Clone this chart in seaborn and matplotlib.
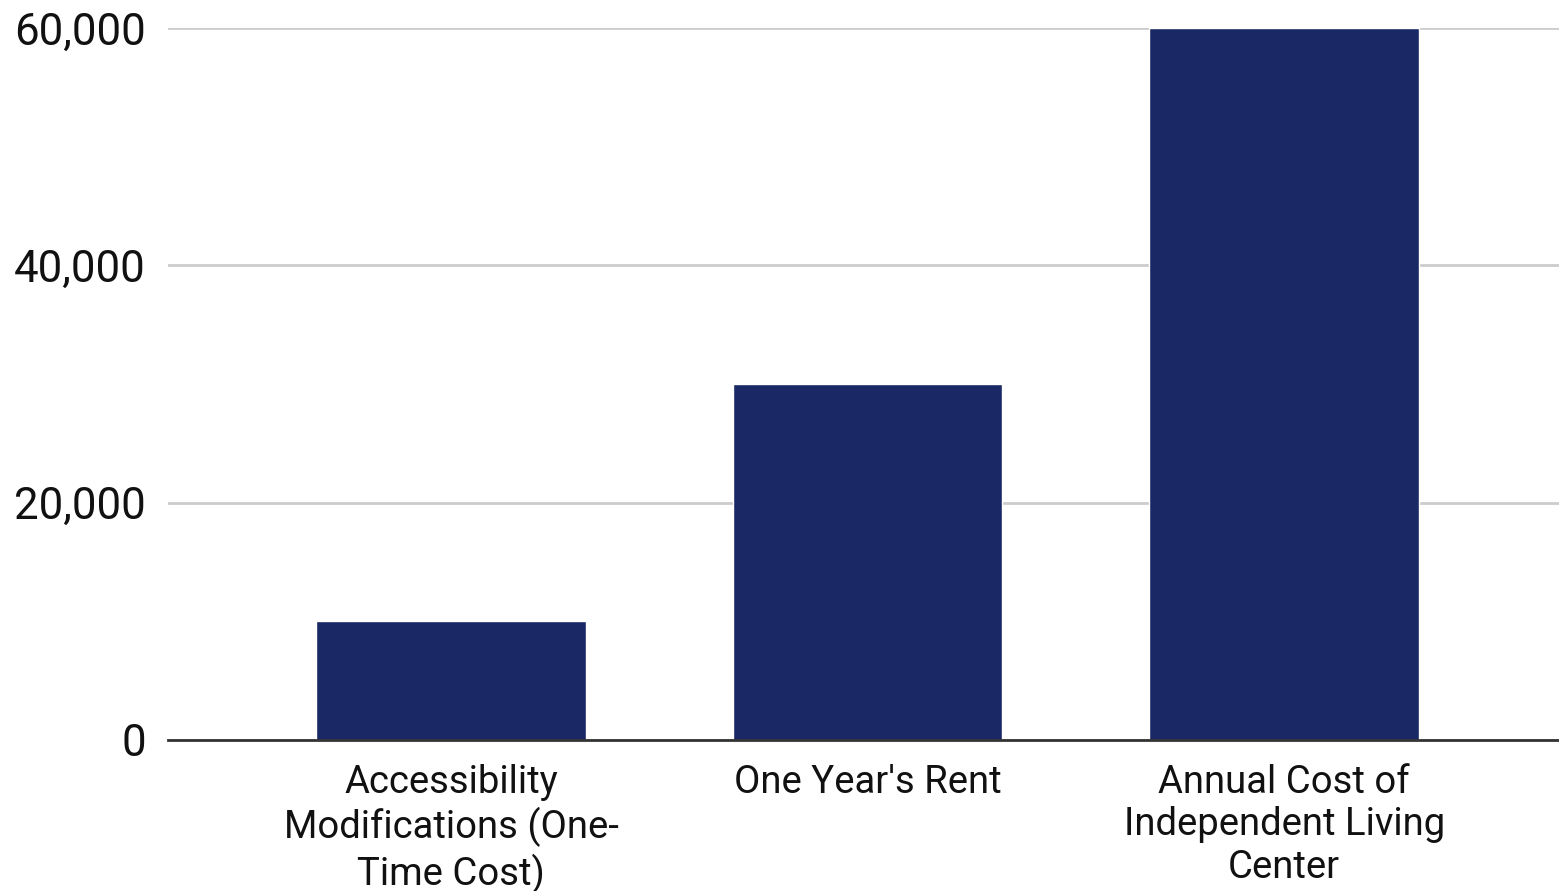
import seaborn as sns
import matplotlib.pyplot as plt
import pandas as pd
from matplotlib.ticker import FuncFormatter

sns.set_style('white')
plt.rcParams['font.family'] = ['Roboto', 'DejaVu Sans']

# data
categories = ['Accessibility\nModifications (One-\nTime Cost)',
              "One Year's Rent",
              'Annual Cost of\nIndependent Living\nCenter']
costs = [10000, 30000, 60000]
yticks = [0, 20000, 40000, 60000]

df = pd.DataFrame({'Category': categories, 'Cost': costs})

fig = plt.figure(figsize=(15.59, 8.91), dpi=100)
ax = fig.add_axes([168 / 1559, 1 - 740 / 891, 1 - 168 / 1559, (740 - 28) / 891])

sns.barplot(data=df, x='Category', y='Cost', color='#1a2866', width=0.647,
            saturation=1, ax=ax, zorder=3)

ax.set_xlim(-0.68, 2.66)
ax.set_ylim(0, 60000)
ax.set_yticks(yticks)
ax.yaxis.set_major_formatter(FuncFormatter(lambda v, p: f'{int(v):,}'))
ax.grid(axis='y', color='#cccccc', linewidth=2, zorder=0)
ax.set_axisbelow(True)

for s in ['top', 'right', 'left']:
    ax.spines[s].set_visible(False)
ax.spines['bottom'].set_color('#333333')
ax.spines['bottom'].set_linewidth(2)
ax.spines['bottom'].set_zorder(4)

ax.tick_params(axis='y', length=0, pad=16, labelsize=31.5, labelcolor='#111111')
ax.tick_params(axis='x', length=0, pad=17, labelsize=27.5, labelcolor='#111111')
for lab in ax.get_xticklabels():
    lab.set_linespacing(1.2)

ax.set_xlabel('')
ax.set_ylabel('')

plt.savefig('out.png', dpi=100)
